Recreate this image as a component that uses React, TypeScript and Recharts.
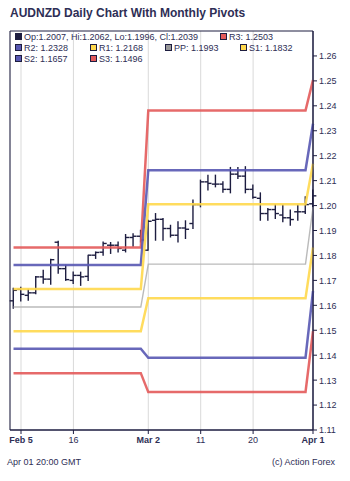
import React from 'react';
import { ComposedChart, Bar, Line, XAxis, YAxis, CartesianGrid, ReferenceArea } from 'recharts';

const FONT = '"Liberation Sans", Arial, sans-serif';
const NAVY = '#1d1d40';
const TEXT = '#2e2e55';

// daily bars, Feb 4 .. Apr 1
const DATES = [
  'Feb 4', 'Feb 5', 'Feb 6', 'Feb 9', 'Feb 10', 'Feb 11', 'Feb 12', 'Feb 13', 'Feb 16', 'Feb 17',
  'Feb 18', 'Feb 19', 'Feb 20', 'Feb 23', 'Feb 24', 'Feb 25', 'Feb 26', 'Feb 27',
  'Mar 2', 'Mar 3', 'Mar 4', 'Mar 5', 'Mar 6', 'Mar 9', 'Mar 10', 'Mar 11', 'Mar 12', 'Mar 13',
  'Mar 16', 'Mar 17', 'Mar 18', 'Mar 19', 'Mar 20', 'Mar 23', 'Mar 24', 'Mar 25', 'Mar 26', 'Mar 27',
  'Mar 30', 'Mar 31', 'Apr 1',
];

const OPEN = [
  1.1618, 1.1664, 1.1640, 1.1650, 1.1714, 1.1705, 1.1853, 1.1747, 1.1700, 1.1720,
  1.1716, 1.1801, 1.1813, 1.1841, 1.1841, 1.1821, 1.1872, 1.1877,
  1.1821, 1.1941, 1.1945, 1.1908, 1.1881, 1.1910, 1.1928, 1.2004, 1.2095, 1.2086,
  1.2086, 1.2065, 1.2126, 1.2118, 1.2065, 1.2029, 1.1968, 1.1984, 1.1962, 1.1951,
  1.1975, 1.1975, 1.2007,
];
const HIGH = [
  1.1668, 1.1672, 1.1664, 1.1716, 1.1741, 1.1785, 1.1857, 1.1761, 1.1734, 1.1733,
  1.1801, 1.1814, 1.1854, 1.1852, 1.1854, 1.1884, 1.1887, 1.1901,
  1.1941, 1.1968, 1.1948, 1.1921, 1.1935, 1.1939, 1.2022, 1.2102, 1.2122, 1.2122,
  1.2095, 1.2153, 1.2153, 1.2156, 1.2082, 1.2051, 1.1988, 1.2004, 1.2002, 1.1982,
  1.2002, 1.2035, 1.2062,
];
const LOW = [
  1.1588, 1.1617, 1.1620, 1.1646, 1.1688, 1.1684, 1.1729, 1.1700, 1.1687, 1.1680,
  1.1700, 1.1788, 1.1801, 1.1808, 1.1814, 1.1814, 1.1837, 1.1854,
  1.1821, 1.1861, 1.1861, 1.1874, 1.1854, 1.1868, 1.1908, 1.1995, 1.2062, 1.2075,
  1.2053, 1.2051, 1.2109, 1.2051, 1.2029, 1.1941, 1.1941, 1.1948, 1.1935, 1.1921,
  1.1941, 1.1968, 1.1996,
];
const CLOSE = [
  1.1660, 1.1644, 1.1650, 1.1714, 1.1705, 1.1783, 1.1747, 1.1703, 1.1720, 1.1714,
  1.1801, 1.1812, 1.1848, 1.1841, 1.1828, 1.1872, 1.1877, 1.1862,
  1.1937, 1.1945, 1.1908, 1.1881, 1.1910, 1.1905, 1.2004, 1.2095, 1.2089, 1.2086,
  1.2065, 1.2126, 1.2118, 1.2065, 1.2033, 1.1968, 1.1984, 1.1968, 1.1951, 1.1944,
  1.1975, 1.2004, 1.2039,
];

// monthly pivot levels
const LEVELS = ['R3', 'R2', 'R1', 'PP', 'S1', 'S2', 'S3'];
const LEVEL_COLORS = ['#e35a5a', '#5858b2', '#ffd84c', '#b2b2b2', '#ffd84c', '#5858b2', '#e35a5a'];
const LEVEL_WIDTHS = [2.5, 2.5, 2.5, 1.4, 2.5, 2.5, 2.5];
const FEB_PIVOTS = [1.1832, 1.1762, 1.1665, 1.1593, 1.1496, 1.1426, 1.1328];
const MAR_PIVOTS = [1.2381, 1.2142, 1.2005, 1.1765, 1.1628, 1.1390, 1.1252];
const APR_PIVOTS = [1.2503, 1.2328, 1.2168, 1.1993, 1.1832, 1.1657, 1.1496];

const TICK_DATES = ['Feb 5', 'Feb 16', 'Mar 2', 'Mar 11', 'Mar 20', 'Apr 1'];
const TICK_LABELS = ['Feb 5', '16', 'Mar 2', '11', '20', 'Apr 1'];
const Y_TICKS = [1.11, 1.12, 1.13, 1.14, 1.15, 1.16, 1.17, 1.18, 1.19, 1.2, 1.21, 1.22, 1.23, 1.24, 1.25, 1.26];

const TICK_IDX = TICK_DATES.map((d) => DATES.indexOf(d));

const DATA = DATES.map((d, i) => {
  const m = d.slice(0, 3);
  const piv = m === 'Feb' ? FEB_PIVOTS : m === 'Mar' ? MAR_PIVOTS : APR_PIVOTS;
  const row: any = { i, date: d, open: OPEN[i], high: HIGH[i], low: LOW[i], close: CLOSE[i] };
  LEVELS.forEach((k, j) => { row[k] = piv[j]; });
  return row;
});

const last = DATA.length - 1;

const OhlcShape = (props: any) => {
  const { x, y, width, height, payload } = props;
  if (x == null || !payload) return null;
  const cx = x + width / 2;
  const top = Math.min(y, y + height);
  const h = Math.abs(height);
  const span = payload.high - payload.low;
  const yOf = (v: number) => top + (span ? ((payload.high - v) / span) * h : 0);
  return (
    <g stroke={NAVY} strokeWidth={1.4}>
      <line x1={cx} x2={cx} y1={top - 0.5} y2={top + h + 0.5} />
      <line x1={cx - 3.6} x2={cx} y1={yOf(payload.open)} y2={yOf(payload.open)} />
      <line x1={cx} x2={cx + 3.6} y1={yOf(payload.close)} y2={yOf(payload.close)} />
    </g>
  );
};

const XTick = ({ x, y, payload }: any) => {
  const label = TICK_LABELS[TICK_IDX.indexOf(payload.value)];
  const bold = /[A-Za-z]/.test(label);
  return (
    <text x={x} y={y} dy={6.7} textAnchor="middle" fontSize={9} fontFamily={FONT}
      fontWeight={bold ? 'bold' : 'normal'} fill={TEXT}>
      {label}
    </text>
  );
};

const YTick = ({ x, y, payload }: any) => (
  <text x={x} y={y} dy={3.4} textAnchor="start" fontSize={9} fontFamily={FONT} fill={TEXT}>
    {Number(payload.value).toFixed(2)}
  </text>
);

const LegendItem = ({ x, y, color, text }: any) => (
  <g>
    <rect x={x + 0.5} y={y - 6.5} width={6} height={6} fill={color} stroke={NAVY} strokeWidth={1} />
    <text x={x + 9} y={y} fontSize={9} fontFamily={FONT} fill={TEXT}>{text}</text>
  </g>
);

export default function App() {
  const a = DATA[last];
  const lv = (k: string) => a[k].toFixed(4);
  return (
    <div style={{ position: 'absolute', left: 0, top: 0, width: 350, height: 481, background: '#fff' }}>
      <ComposedChart width={350} height={481} data={DATA} margin={{ top: 31, right: 0, bottom: 21, left: 10 }}>
        <CartesianGrid horizontal={false} stroke="#d9d9d9" />
        <XAxis
          dataKey="i"
          type="number"
          domain={[-0.47, last]}
          ticks={TICK_IDX}
          interval={0}
          height={30}
          tickSize={4}
          tick={<XTick />}
          axisLine={{ stroke: NAVY }}
          tickLine={{ stroke: NAVY }}
        />
        <YAxis
          orientation="right"
          type="number"
          domain={[1.11, 1.27]}
          ticks={Y_TICKS}
          interval={0}
          width={37}
          tickSize={4}
          tick={<YTick />}
          axisLine={{ stroke: NAVY }}
          tickLine={{ stroke: NAVY }}
        />
        <ReferenceArea x1={-0.47} x2={last} y1={1.11} y2={1.27} fill="none" stroke={NAVY} strokeWidth={1} />
        {LEVELS.map((k, j) => (
          <Line
            key={k}
            dataKey={k}
            type="linear"
            stroke={LEVEL_COLORS[j]}
            strokeWidth={LEVEL_WIDTHS[j]}
            strokeOpacity={0.9}
            dot={false}
            activeDot={false}
            isAnimationActive={false}
          />
        ))}
        <Bar
          dataKey={(d: any) => [d.low, d.high]}
          barSize={7}
          shape={(p: any) => <OhlcShape {...p} />}
          isAnimationActive={false}
        />
      </ComposedChart>
      <svg width={350} height={481} style={{ position: 'absolute', left: 0, top: 0, pointerEvents: 'none' }}>
        <text x={10} y={17.3} fontSize={12} fontWeight="bold" fontFamily={FONT} fill={TEXT}>
          AUDNZD Daily Chart With Monthly Pivots
        </text>
        <LegendItem x={15} y={40} color={NAVY}
          text={`Op:${a.open.toFixed(4)}, Hi:${a.high.toFixed(4)}, Lo:${a.low.toFixed(4)}, Cl:${a.close.toFixed(4)}`} />
        <LegendItem x={220} y={40} color={LEVEL_COLORS[0]} text={`R3: ${lv('R3')}`} />
        <LegendItem x={15} y={51} color={LEVEL_COLORS[1]} text={`R2: ${lv('R2')}`} />
        <LegendItem x={90} y={51} color={LEVEL_COLORS[2]} text={`R1: ${lv('R1')}`} />
        <LegendItem x={165} y={51} color="#999999" text={`PP: ${lv('PP')}`} />
        <LegendItem x={240} y={51} color={LEVEL_COLORS[4]} text={`S1: ${lv('S1')}`} />
        <LegendItem x={15} y={62} color={LEVEL_COLORS[5]} text={`S2: ${lv('S2')}`} />
        <LegendItem x={90} y={62} color={LEVEL_COLORS[6]} text={`S3: ${lv('S3')}`} />
        <text x={7} y={465} fontSize={9} fontFamily={FONT} fill={TEXT}>Apr 01 20:00 GMT</text>
        <text x={335} y={465} fontSize={9} fontFamily={FONT} fill={TEXT} textAnchor="end">(c) Action Forex</text>
      </svg>
    </div>
  );
}
